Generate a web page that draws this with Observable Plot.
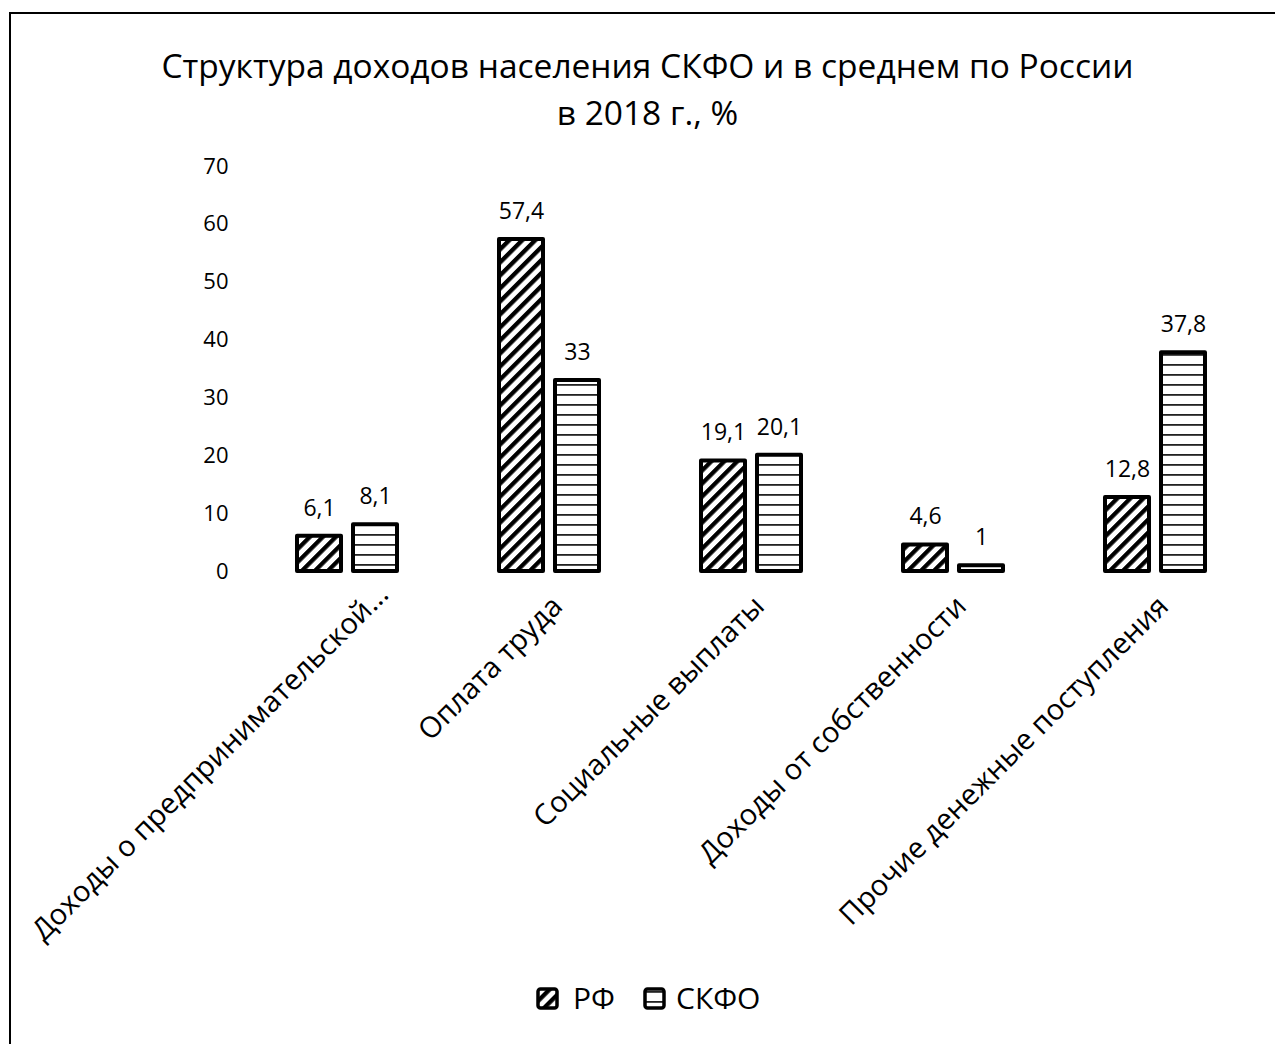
<!DOCTYPE html>
<html><head><meta charset="utf-8">
<script src="https://cdn.jsdelivr.net/npm/d3@7"></script>
<script src="https://cdn.jsdelivr.net/npm/@observablehq/plot@0.6"></script>
<style>
body{margin:0;background:#fff;font-family:"Open Sans",sans-serif;color:#000;}
#wrap{position:relative;width:1275px;height:1044px;overflow:hidden;background:#fff;}
#frame{position:absolute;left:9px;top:12px;width:1300px;height:1100px;border:2.5px solid #000;box-sizing:border-box;}
#title{position:absolute;left:0;width:1295px;top:42px;text-align:center;font-size:33.5px;line-height:47px;}
#chart{position:absolute;left:0;top:0;}
#legend{position:absolute;left:0;top:979px;width:1275px;height:38px;font-size:30px;line-height:38px;}
#legend .sw{position:absolute;top:8px;display:block;}
#legend .lb{position:absolute;top:0;white-space:nowrap;}
</style></head>
<body>
<svg width="0" height="0" style="position:absolute">
<defs>
<pattern id="pRF" patternUnits="userSpaceOnUse" width="9.2" height="9.2" patternTransform="rotate(45)">
<rect width="9.2" height="9.2" fill="#fff"/>
<rect x="0" width="4.3" height="9.2" fill="#000"/>
</pattern>
<pattern id="pSK" patternUnits="userSpaceOnUse" width="10" height="10">
<rect width="10" height="10" fill="#fff"/>
<rect y="4" width="10" height="1.8" fill="#222"/>
</pattern>
</defs></svg>
<div id="wrap">
<div id="frame"></div>
<div id="title">Структура доходов населения СКФО и в среднем по России<br>в 2018 г., %</div>
<div id="chart"></div>
<div id="legend"></div>
</div>
<script>
const categories = ["Доходы о предпринимательской...", "Оплата труда", "Социальные выплаты", "Доходы от собственности", "Прочие денежные поступления"];
const series = ["РФ", "СКФО"];
const valuesRF = [6.1, 57.4, 19.1, 4.6, 12.8];
const valuesSKFO = [8.1, 33, 20.1, 1, 37.8];
const yTicks = [0, 10, 20, 30, 40, 50, 60, 70];
const patterns = ["url(#pRF)", "url(#pSK)"];

const data = categories.flatMap((c, i) => [
  {category: c, series: series[0], value: valuesRF[i]},
  {category: c, series: series[1], value: valuesSKFO[i]}
]);
const fmt = v => String(v).replace(".", ",");

const chart = Plot.plot({
  width: 1275, height: 960,
  marginTop: 166, marginBottom: 389, marginLeft: 246, marginRight: 19,
  style: {fontFamily: "'Open Sans', sans-serif", color: "#000", background: "transparent"},
  fx: {domain: categories, paddingInner: 0.495, paddingOuter: 0.2475, label: null, axis: null},
  x: {domain: series, paddingInner: 0.21, paddingOuter: 0, axis: null},
  y: {domain: [0, 70], label: null, axis: null},
  color: {domain: series, range: patterns},
  marks: [
    Plot.barY(data, {fx: "category", x: "series", y: "value", fill: "series", stroke: "#000", strokeWidth: 4, strokeLinejoin: "round"}),
    Plot.text(data, {fx: "category", x: "series", y: "value", text: d => fmt(d.value), dy: -28, fontSize: 23, fill: "#000"}),
    Plot.axisY({ticks: yTicks, tickSize: 0, tickPadding: 68, fontSize: 22, label: null}),
    Plot.axisFx({anchor: "bottom", ticks: categories.slice(1), tickRotate: -45, tickSize: 0, tickPadding: 30, dx: 8, fontSize: 29, label: null}),
    Plot.axisFx({anchor: "bottom", ticks: categories.slice(0, 1), tickRotate: -45, tickSize: 0, tickPadding: 18, dx: 36, fontSize: 29, label: null})
  ]
});
document.getElementById("chart").appendChild(chart);

const legend = document.getElementById("legend");
const swX = [538, 645], lbX = [573, 676];
series.forEach((s, i) => {
  legend.insertAdjacentHTML("beforeend",
    `<svg class="sw" style="left:${swX[i] - 2}px" width="23" height="23"><rect x="2" y="2" width="19" height="19" rx="2.5" fill="${patterns[i]}" stroke="#000" stroke-width="3.5"/></svg><span class="lb" style="left:${lbX[i]}px">${s}</span>`);
});
</script>
</body></html>
